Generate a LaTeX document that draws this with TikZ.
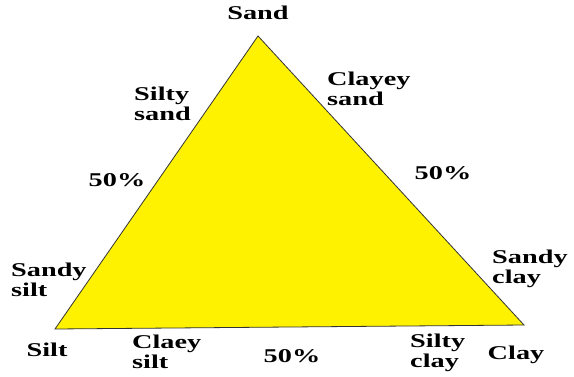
\documentclass[tikz,border=0pt]{standalone}
\usepackage{fontspec}
\setmainfont{Liberation Serif}
\newfontfamily\lblfont[FakeStretch=1.45]{Liberation Serif}
\begin{document}
\begin{tikzpicture}[x=1pt,y=-1pt,
  lbl/.style={font=\lblfont\fontsize{19.5}{20.5}\selectfont\bfseries, inner sep=0pt, align=left}]
\useasboundingbox (0,0) rectangle (574,376);
\coordinate (A) at (258,36);
\coordinate (L) at (55,329);
\coordinate (R) at (524,325);
\filldraw[fill=yellow, draw=black!80, line width=0.8pt] (A) -- (R) -- (L) -- cycle;
\node[lbl] (sand) at (258,13) {Sand};
\node[lbl, anchor=west] (siltysand) at (134,104) {Silty\\sand};
\node[lbl, anchor=west] (clayeysand) at (327,89) {Clayey\\sand};
\node[lbl] (p1) at (117,180) {50\%};
\node[lbl] (p2) at (443,173) {50\%};
\node[lbl, anchor=west] (sandysilt) at (11,280) {Sandy\\silt};
\node[lbl, anchor=west] (sandyclay) at (492,269) {Sandy\\clay};
\node[lbl] (silt) at (47,350) {Silt};
\node[lbl, anchor=west] (claeysilt) at (132,352) {Claey\\silt};
\node[lbl] (p3) at (292,356) {50\%};
\node[lbl, anchor=west] (siltyclay) at (410,353) {Silty\\clay};
\node[lbl] (clay) at (516,355) {Clay};
\end{tikzpicture}
\end{document}
